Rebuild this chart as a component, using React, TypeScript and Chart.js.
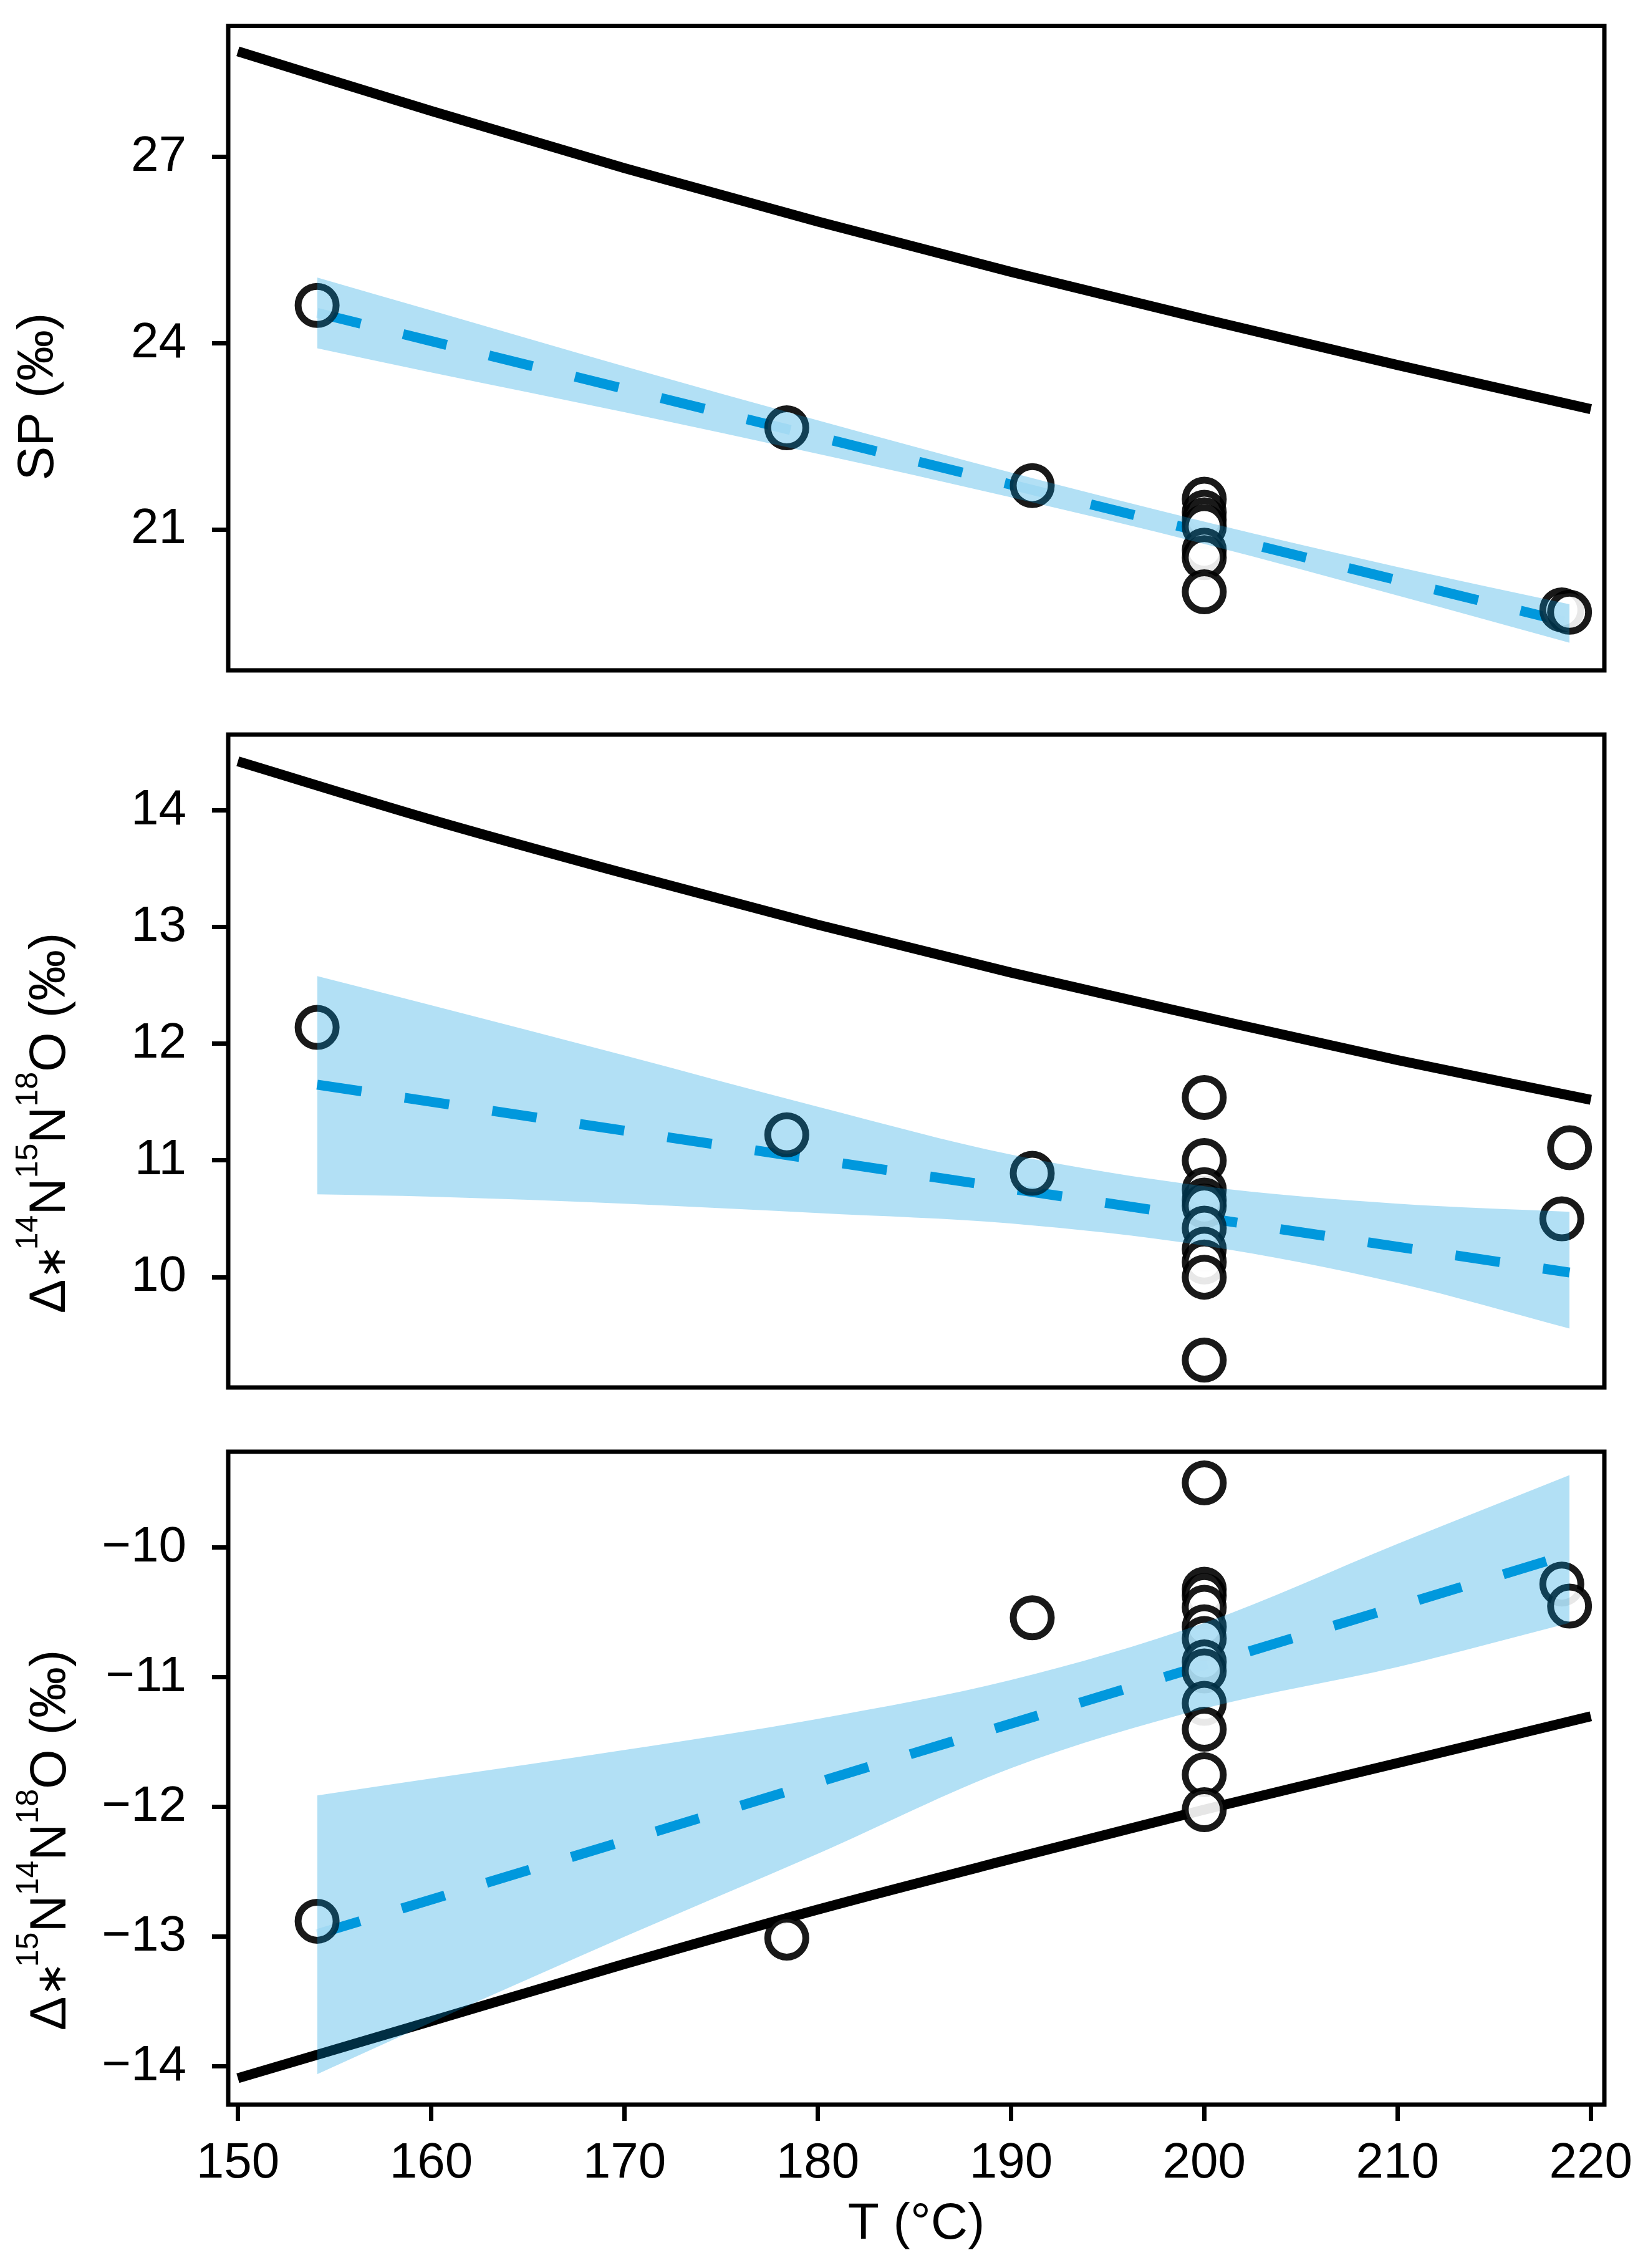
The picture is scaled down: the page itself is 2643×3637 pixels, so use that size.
import { useEffect, useRef } from "react";
import { Chart, registerables } from "chart.js";
import type { Plugin } from "chart.js";

Chart.register(...registerables);

// temperature axis (°C)
const T_TICKS = [150, 160, 170, 180, 190, 200, 210, 220];

const THEORY_T = [150, 160, 170, 180, 190, 200, 210, 220];
const SP_THEORY = [28.7, 27.74, 26.82, 25.96, 25.15, 24.39, 23.65, 22.94];
const D14_THEORY = [14.42, 13.92, 13.46, 13.02, 12.61, 12.23, 11.86, 11.52];
const D15_THEORY = [-14.09, -13.65, -13.21, -12.79, -12.4, -12.02, -11.66, -11.3];

// measured samples
const SP_OBS_T = [154.1, 178.4, 191.1, 200, 200, 200, 200, 200, 200, 200, 218.5, 218.9];
const SP_OBS = [24.61, 22.64, 21.71, 21.49, 21.28, 21.16, 21.05, 20.67, 20.55, 20.0, 19.71, 19.67];

const D14_OBS_T = [154.1, 178.4, 191.1, 200, 200, 200, 200, 200, 200, 200, 200, 200, 200, 218.9, 218.5];
const D14_OBS = [12.14, 11.22, 10.89, 11.54, 11.0, 10.75, 10.66, 10.61, 10.42, 10.24, 10.13, 10.0, 9.29, 11.11, 10.5];

const D15_OBS_T = [154.1, 178.4, 191.1, 200, 200, 200, 200, 200, 200, 200, 200, 200, 200, 200, 200, 218.5, 218.9];
const D15_OBS = [-12.88, -13.01, -10.54, -9.5, -10.32, -10.37, -10.46, -10.61, -10.7, -10.88, -10.95, -11.2, -11.4, -11.75, -12.02, -10.28, -10.45];

// regression lines
const FIT_T = [154.1, 218.9];
const SP_FIT = [24.49, 19.5];
const D14_FIT = [11.65, 10.04];
const D15_FIT = [-12.98, -10.05];

// confidence bands
const BAND_T = [154.1, 160, 170, 180, 190, 200, 210, 218.9];
const SP_UPPER = [25.06, 24.53, 23.63, 22.76, 21.92, 21.13, 20.4, 19.8];
const SP_LOWER = [23.92, 23.53, 22.89, 22.22, 21.52, 20.77, 19.94, 19.18];
const D14_UPPER = [12.58, 12.33, 11.9, 11.46, 11.05, 10.78, 10.63, 10.56];
const D14_LOWER = [10.71, 10.69, 10.63, 10.55, 10.46, 10.27, 9.95, 9.56];
const D15_UPPER = [-11.91, -11.78, -11.56, -11.32, -11.02, -10.58, -9.97, -9.44];
const D15_LOWER = [-14.06, -13.66, -13.0, -12.36, -11.7, -11.24, -10.92, -10.58];

const SP_TICKS = [21, 24, 27];
const D14_TICKS = [10, 11, 12, 13, 14];
const D15_TICKS = [-14, -13, -12, -11, -10];

const SANS = '"Liberation Sans", Arial, Helvetica, sans-serif';
const BLUE = "#0099dd";
const BAND = "rgba(0, 153, 221, 0.3)";

type Seg = { text: string; size: number; rise?: number; family?: string; gap?: number };

const zip = (xs: number[], ys: number[]) => xs.map((x, i) => ({ x, y: ys[i] }));

function isotopeLabel(a: string, b: string): Seg[] {
  return [
    { text: "\u0394", size: 82 },
    { text: "\u2217", size: 66, family: '"DejaVu Sans", sans-serif', gap: -8 },
    { text: a, size: 50, rise: 44 },
    { text: "N", size: 82 },
    { text: b, size: 50, rise: 44 },
    { text: "N", size: 82 },
    { text: "18", size: 50, rise: 44 },
    { text: "O (\u2030)", size: 82 },
  ];
}

function decor(segs: Seg[], lx: number, ly: number): Plugin<"scatter"> {
  return {
    id: "panelDecor",
    afterDraw(chart) {
      const { ctx, chartArea: a } = chart;
      ctx.save();
      ctx.strokeStyle = "#000";
      ctx.lineWidth = 7;
      ctx.strokeRect(a.left, a.top, a.right - a.left, a.bottom - a.top);

      ctx.translate(lx, ly);
      ctx.rotate(-Math.PI / 2);
      ctx.fillStyle = "#000";
      ctx.textBaseline = "alphabetic";
      ctx.textAlign = "left";
      const font = (s: Seg) => `${s.size}px ${s.family ?? SANS}`;
      const widths = segs.map((s) => {
        ctx.font = font(s);
        return ctx.measureText(s.text).width + (s.gap ?? 0);
      });
      let u = -widths.reduce((p, w) => p + w, 0) / 2;
      segs.forEach((s, i) => {
        ctx.font = font(s);
        ctx.fillText(s.text, u, -(s.rise ?? 0));
        u += widths[i];
      });
      ctx.restore();
    },
  };
}

type PanelProps = {
  top: number;
  height: number;
  padTop: number;
  padBottom: number;
  yMin: number;
  yMax: number;
  yTicks: number[];
  obsT: number[];
  obs: number[];
  fit: number[];
  upper: number[];
  lower: number[];
  theory: number[];
  label: Seg[];
  labelX: number;
  labelY: number;
  showX: boolean;
};

function Panel(p: PanelProps) {
  const chartRef = useRef<HTMLCanvasElement>(null);
  const chartInstanceRef = useRef<Chart | null>(null);

  useEffect(() => {
    if (!chartRef.current) return;
    const context = chartRef.current.getContext("2d") as CanvasRenderingContext2D;
    if (chartInstanceRef.current) chartInstanceRef.current.destroy();

    const tickFont = { family: SANS, size: 80 };
    const tickGrid = {
      drawOnChartArea: false,
      tickLength: 26,
      tickWidth: 7,
      tickColor: "#000",
    };

    chartInstanceRef.current = new Chart(context, {
      type: "scatter",
      data: {
        datasets: [
          {
            label: "upper",
            data: zip(BAND_T, p.upper),
            showLine: true,
            fill: "+1",
            backgroundColor: BAND,
            borderColor: "rgba(0,0,0,0)",
            borderWidth: 0,
            pointRadius: 0,
            cubicInterpolationMode: "monotone",
            order: 0,
          },
          {
            label: "lower",
            data: zip(BAND_T, p.lower),
            showLine: true,
            fill: false,
            borderColor: "rgba(0,0,0,0)",
            borderWidth: 0,
            pointRadius: 0,
            cubicInterpolationMode: "monotone",
            order: 0,
          },
          {
            label: "measured",
            data: zip(p.obsT, p.obs),
            pointRadius: 30.5,
            pointBorderWidth: 11,
            pointBackgroundColor: "rgba(255,255,255,0.9)",
            pointBorderColor: "rgba(0,0,0,0.9)",
            order: 1,
          },
          {
            label: "fit",
            data: zip(FIT_T, p.fit),
            showLine: true,
            borderColor: BLUE,
            borderWidth: 16,
            borderDash: [72, 70],
            borderCapStyle: "butt",
            pointRadius: 0,
            order: 2,
          },
          {
            label: "equilibrium",
            data: zip(THEORY_T, p.theory),
            showLine: true,
            borderColor: "#000",
            borderWidth: 16,
            borderCapStyle: "butt",
            pointRadius: 0,
            cubicInterpolationMode: "monotone",
            order: 3,
          },
        ],
      },
      options: {
        animation: false,
        responsive: false,
        devicePixelRatio: 1,
        events: [],
        layout: { padding: { left: 0, right: 70, top: p.padTop, bottom: p.padBottom } },
        plugins: { legend: { display: false }, tooltip: { enabled: false } },
        scales: {
          x: {
            type: "linear",
            min: 149.5,
            max: 220.7,
            display: p.showX,
            afterBuildTicks: (s) => {
              s.ticks = T_TICKS.map((v) => ({ value: v }));
            },
            afterFit: (s) => {
              s.height = p.showX ? 262 : 0;
              s.paddingLeft = 0;
              s.paddingRight = 0;
            },
            grid: tickGrid,
            border: { display: false },
            ticks: {
              font: tickFont,
              color: "#000",
              padding: 21,
              maxRotation: 0,
              autoSkip: false,
            },
            title: {
              display: true,
              text: "T (°C)",
              color: "#000",
              font: { family: SANS, size: 82 },
              padding: { top: 0, bottom: 20 },
            },
          },
          y: {
            type: "linear",
            min: p.yMin,
            max: p.yMax,
            afterBuildTicks: (s) => {
              s.ticks = p.yTicks.map((v) => ({ value: v }));
            },
            afterFit: (s) => {
              s.width = 366;
              s.paddingTop = 0;
              s.paddingBottom = 0;
            },
            grid: tickGrid,
            border: { display: false },
            ticks: {
              font: tickFont,
              color: "#000",
              padding: 41,
              autoSkip: false,
              callback: (v) => String(v).replace("-", "\u2212"),
            },
          },
        },
      },
      plugins: [decor(p.label, p.labelX, p.labelY)],
    });

    return () => {
      if (chartInstanceRef.current) {
        chartInstanceRef.current.destroy();
        chartInstanceRef.current = null;
      }
    };
  }, []);

  return (
    <canvas
      ref={chartRef}
      width={2643}
      height={p.height}
      style={{ position: "absolute", left: 0, top: p.top, width: 2643, height: p.height }}
    ></canvas>
  );
}

export default function App() {
  return (
    <div style={{ position: "absolute", left: 0, top: 0, width: 2643, height: 3637, background: "#fff" }}>
      <Panel
        top={0}
        height={1126}
        padTop={27}
        padBottom={51}
        yMin={18.735}
        yMax={29.11}
        yTicks={SP_TICKS}
        obsT={SP_OBS_T}
        obs={SP_OBS}
        fit={SP_FIT}
        upper={SP_UPPER}
        lower={SP_LOWER}
        theory={SP_THEORY}
        label={[{ text: "SP (\u2030)", size: 82 }]}
        labelX={85}
        labelY={636}
        showX={false}
      />
      <Panel
        top={1126}
        height={1150}
        padTop={52}
        padBottom={51}
        yMin={9.055}
        yMax={14.649}
        yTicks={D14_TICKS}
        obsT={D14_OBS_T}
        obs={D14_OBS}
        fit={D14_FIT}
        upper={D14_UPPER}
        lower={D14_LOWER}
        theory={D14_THEORY}
        label={isotopeLabel("14", "15")}
        labelX={104}
        labelY={675}
        showX={false}
      />
      <Panel
        top={2276}
        height={1361}
        padTop={52}
        padBottom={0}
        yMin={-14.294}
        yMax={-9.26}
        yTicks={D15_TICKS}
        obsT={D15_OBS_T}
        obs={D15_OBS}
        fit={D15_FIT}
        upper={D15_UPPER}
        lower={D15_LOWER}
        theory={D15_THEORY}
        label={isotopeLabel("15", "14")}
        labelX={105}
        labelY={675}
        showX={true}
      />
    </div>
  );
}
